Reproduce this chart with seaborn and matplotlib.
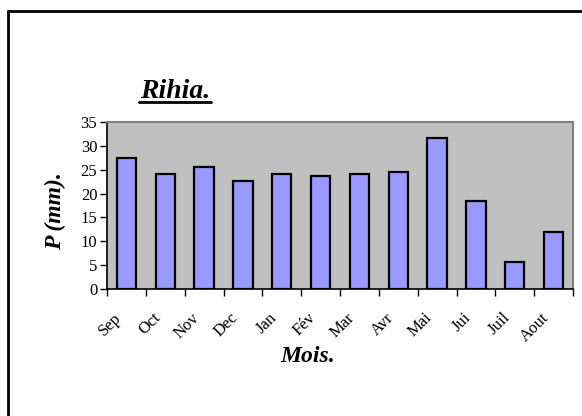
import matplotlib
matplotlib.use("Agg")
import matplotlib.pyplot as plt
import seaborn as sns
import pandas as pd
from matplotlib.lines import Line2D

months = ["Sep", "Oct", "Nov", "Dec", "Jan", "Fév", "Mar", "Avr", "Mai", "Jui", "Juil", "Aout"]
precip = [27.4, 24.1, 25.5, 22.7, 24.1, 23.6, 24.1, 24.6, 31.6, 18.5, 5.7, 11.9]
yticks = [0, 5, 10, 15, 20, 25, 30, 35]

sns.set_style("white")
plt.rcParams['font.family'] = ['Liberation Serif', 'DejaVu Serif']
plt.rcParams['text.color'] = 'black'
plt.rcParams['xtick.color'] = 'black'
plt.rcParams['ytick.color'] = 'black'
plt.rcParams['axes.labelcolor'] = 'black'

df = pd.DataFrame({"Mois": months, "P": precip})

fig = plt.figure(figsize=(5.82, 4.16), dpi=100)
ax = fig.add_axes([107/582, 1-289/416, (573-107)/582, (289-122)/416])
sns.barplot(data=df, x="Mois", y="P", ax=ax, color="#9999FF", saturation=1,
            edgecolor="black", linewidth=1.6, width=0.5)
ax.set_facecolor("#C0C0C0")
ax.set_xlim(-0.5, len(months) - 0.5)
ax.set_ylim(0, 35)
ax.set_yticks(yticks)
ax.set_yticklabels([str(v) for v in yticks], fontsize=12, color="black")

# ticks at category boundaries, labels near centres (slightly left, as in Excel)
ax.set_xticks([i - 0.5 for i in range(len(months) + 1)])
ax.set_xticklabels([])
ax.set_xticks([i - 0.33 for i in range(len(months))], minor=True)
ax.set_xticklabels(months, minor=True, rotation=45, ha="right",
                   rotation_mode="anchor", fontsize=12, color="black")
ax.tick_params(axis="x", which="major", direction="out", length=5, width=1, color="black", bottom=True)
ax.tick_params(axis="x", which="minor", length=0, pad=15)
ax.tick_params(axis="y", direction="out", length=5, width=1, color="black", left=True, pad=2)

for s in ["left", "bottom"]:
    ax.spines[s].set_color("black")
    ax.spines[s].set_linewidth(1.2)
for s in ["top", "right"]:
    ax.spines[s].set_color("#808080")
    ax.spines[s].set_linewidth(1.5)

ax.set_xlabel("")
ax.set_ylabel("")
fig.text(308/582, 1-357/416, "Mois.", ha="center", va="center",
         fontsize=17, fontweight="bold", fontstyle="italic", color="black")
fig.text(55/582, 1-211/416, "P (mm).", ha="center", va="center", rotation=90,
         fontsize=17, fontweight="bold", fontstyle="italic", color="black")
fig.text(175/582, 1-91/416, "Rihia.", ha="center", va="center",
         fontsize=20, fontweight="bold", fontstyle="italic", color="black")
# underline
fig.add_artist(Line2D([139/582, 211/582], [1-102/416, 1-102/416], color="black", lw=2))

# outer frame (left and top)
fig.add_artist(Line2D([8/582, 8/582], [0, 1-11/416], color="black", lw=2))
fig.add_artist(Line2D([8/582, 1], [1-11/416, 1-11/416], color="black", lw=2))

fig.savefig("out.png", dpi=100, facecolor="white")
